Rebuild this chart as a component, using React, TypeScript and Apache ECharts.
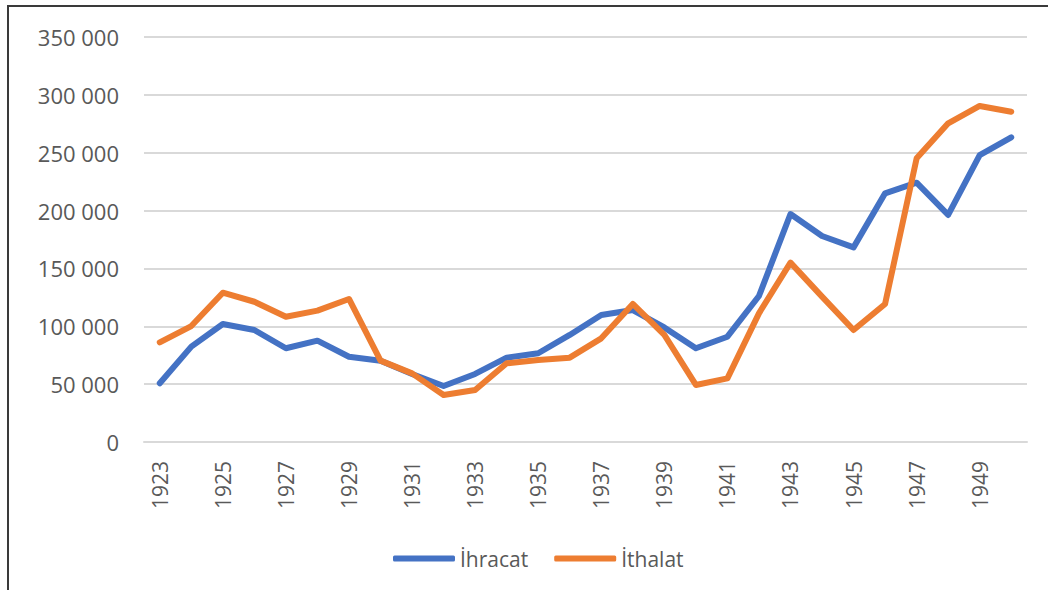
import React, { useEffect, useRef } from "react";
import * as echarts from "echarts";

const years: string[] = [
  "1923", "1924", "1925", "1926", "1927", "1928", "1929", "1930", "1931", "1932",
  "1933", "1934", "1935", "1936", "1937", "1938", "1939", "1940", "1941", "1942",
  "1943", "1944", "1945", "1946", "1947", "1948", "1949", "1950",
];

const ihracat: number[] = [
  50800, 82400, 102000, 96800, 81000, 87600, 73700, 70300, 58800, 48400,
  58800, 72900, 76700, 92500, 109700, 114000, 99000, 81000, 91000, 126200,
  197000, 178000, 168200, 214900, 224100, 196200, 248000, 263300,
];

const ithalat: number[] = [
  86100, 100200, 129000, 121200, 108300, 113500, 123600, 70300, 59300, 40600,
  44900, 68000, 70900, 72900, 89600, 119300, 92500, 49300, 55000, 111200,
  155000, 125600, 96800, 119300, 245200, 275400, 290400, 285400,
];

const seriesNames: string[] = ["İhracat", "İthalat"];
const yTicks = { min: 0, max: 350000, interval: 50000 };

const FONT = "'Open Sans', 'Noto Sans', sans-serif";
const TEXT = "#595959";

export default function App() {
  const ref = useRef<HTMLDivElement>(null);

  useEffect(() => {
    if (!ref.current) return;
    const chart = echarts.init(ref.current, null, { renderer: "svg" });
    chart.setOption({
      animation: false,
      backgroundColor: "#ffffff",
      textStyle: { fontFamily: FONT },
      grid: { left: 144, right: 21, top: 37, bottom: 148, containLabel: false },
      legend: {
        left: 388,
        top: 543,
        itemWidth: 62,
        itemHeight: 6,
        itemGap: 26,
        icon: "roundRect",
        textStyle: { fontFamily: FONT, fontSize: 21, color: TEXT, padding: [0, 0, 0, 0] },
        data: seriesNames,
      },
      xAxis: {
        type: "category",
        data: years,
        boundaryGap: true,
        axisLine: { show: true, lineStyle: { color: "#d9d9d9", width: 2 } },
        axisTick: { show: false },
        axisLabel: {
          interval: 1,
          rotate: 90,
          margin: 19,
          fontSize: 21,
          fontFamily: FONT,
          color: TEXT,
        },
      },
      yAxis: {
        type: "value",
        min: yTicks.min,
        max: yTicks.max,
        interval: yTicks.interval,
        axisLine: { show: false },
        axisTick: { show: false },
        splitLine: { lineStyle: { color: "#d9d9d9", width: 2 } },
        axisLabel: {
          margin: 25,
          fontSize: 22,
          fontFamily: FONT,
          color: TEXT,
          formatter: (v: number) =>
            String(Math.round(v)).replace(/\B(?=(\d{3})+(?!\d))/g, " "),
        },
      },
      series: [
        {
          name: seriesNames[0],
          type: "line",
          data: ihracat,
          showSymbol: false,
          symbol: "none",
          lineStyle: { color: "#4472C4", width: 6, cap: "round", join: "round" },
          itemStyle: { color: "#4472C4" },
        },
        {
          name: seriesNames[1],
          type: "line",
          data: ithalat,
          showSymbol: false,
          symbol: "none",
          lineStyle: { color: "#ED7D31", width: 6, cap: "round", join: "round" },
          itemStyle: { color: "#ED7D31" },
        },
      ],
      graphic: [
        {
          type: "polyline",
          silent: true,
          shape: { points: [[8, 590], [8, 6], [1048, 6]] },
          style: { stroke: "#3a3a3a", lineWidth: 2, fill: null },
        },
      ],
    });
    return () => chart.dispose();
  }, []);

  return (
    <div
      ref={ref}
      style={{ position: "fixed", left: 0, top: 0, width: 1048, height: 590 }}
    />
  );
}
